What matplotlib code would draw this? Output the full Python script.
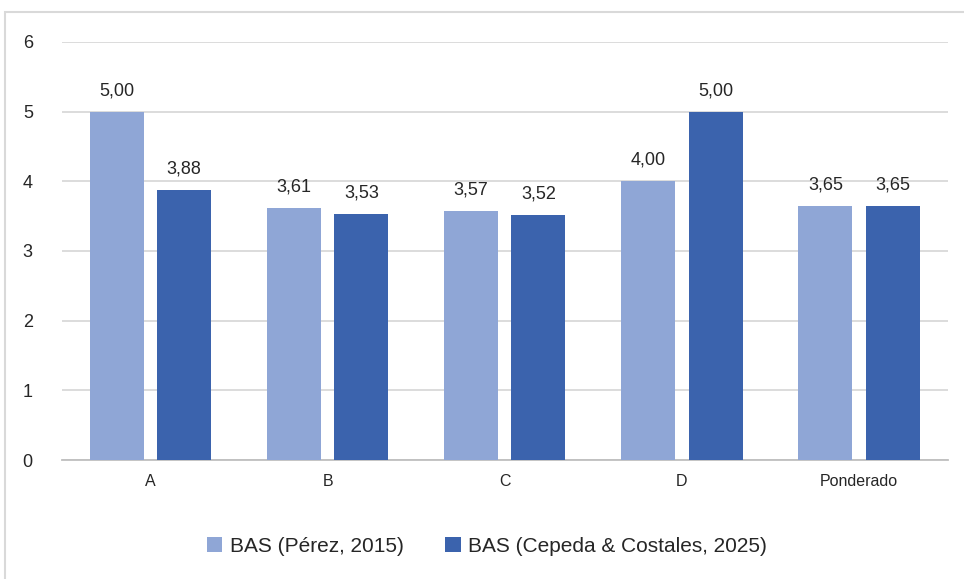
import numpy as np
import matplotlib
matplotlib.use("Agg")
import matplotlib.pyplot as plt
from matplotlib.patches import Rectangle

categories = ["A", "B", "C", "D", "Ponderado"]
perez_2015 = [5.00, 3.61, 3.57, 4.00, 3.65]
cepeda_2025 = [3.88, 3.53, 3.52, 5.00, 3.65]
series_names = ["BAS (Pérez, 2015)", "BAS (Cepeda & Costales, 2025)"]

light = "#8FA6D6"
dark = "#3B63AD"

plt.rcParams['font.family'] = ['Liberation Sans', 'DejaVu Sans']

fig = plt.figure(figsize=(9.64, 5.79), dpi=100)
ax = fig.add_axes([0.0643, 0.2055, 0.9187, 0.722])

# outer frame like the exported chart box
fig.patches.append(Rectangle((5 / 964, -0.1), 2, 1 - 12 / 579 + 0.1,
                             transform=fig.transFigure, fill=False,
                             edgecolor="#D9D9D9", linewidth=1.5))

x = np.arange(len(categories))
w = 0.305
off = 0.19
b1 = ax.bar(x - off, perez_2015, w, color=light, label=series_names[0], zorder=3)
b2 = ax.bar(x + off, cepeda_2025, w, color=dark, label=series_names[1], zorder=3)

for bars, vals in ((b1, perez_2015), (b2, cepeda_2025)):
    for rect, v in zip(bars, vals):
        ax.annotate(f"{v:.2f}".replace(".", ","),
                    (rect.get_x() + rect.get_width() / 2, v),
                    xytext=(0, 9), textcoords="offset points",
                    ha="center", va="bottom", fontsize=13, color="#262626")

ax.set_xlim(-0.5, len(categories) - 0.5)
ax.set_ylim(0, 6)
ax.set_yticks(range(0, 7))
ax.set_xticks(x)
ax.set_xticklabels(categories)
ax.yaxis.grid(True, color="#D9D9D9", linewidth=1.3, zorder=0)
ax.set_axisbelow(True)
for s in ("top", "right", "left"):
    ax.spines[s].set_visible(False)
ax.spines["bottom"].set_color("#BFBFBF")
ax.spines["bottom"].set_linewidth(1.3)
ax.tick_params(axis="both", length=0, colors="#262626")
ax.tick_params(axis="y", labelsize=13, pad=21)
ax.tick_params(axis="x", labelsize=11.5, pad=10)

fig.legend(handles=[b1, b2], labels=series_names, loc="center",
           bbox_to_anchor=(0.505, 1 - 546 / 579), ncol=2, frameon=False,
           fontsize=15, handlelength=0.75, handleheight=0.75,
           handletextpad=0.35, columnspacing=2.0, labelcolor="#262626")

fig.savefig("out.png", dpi=100)
